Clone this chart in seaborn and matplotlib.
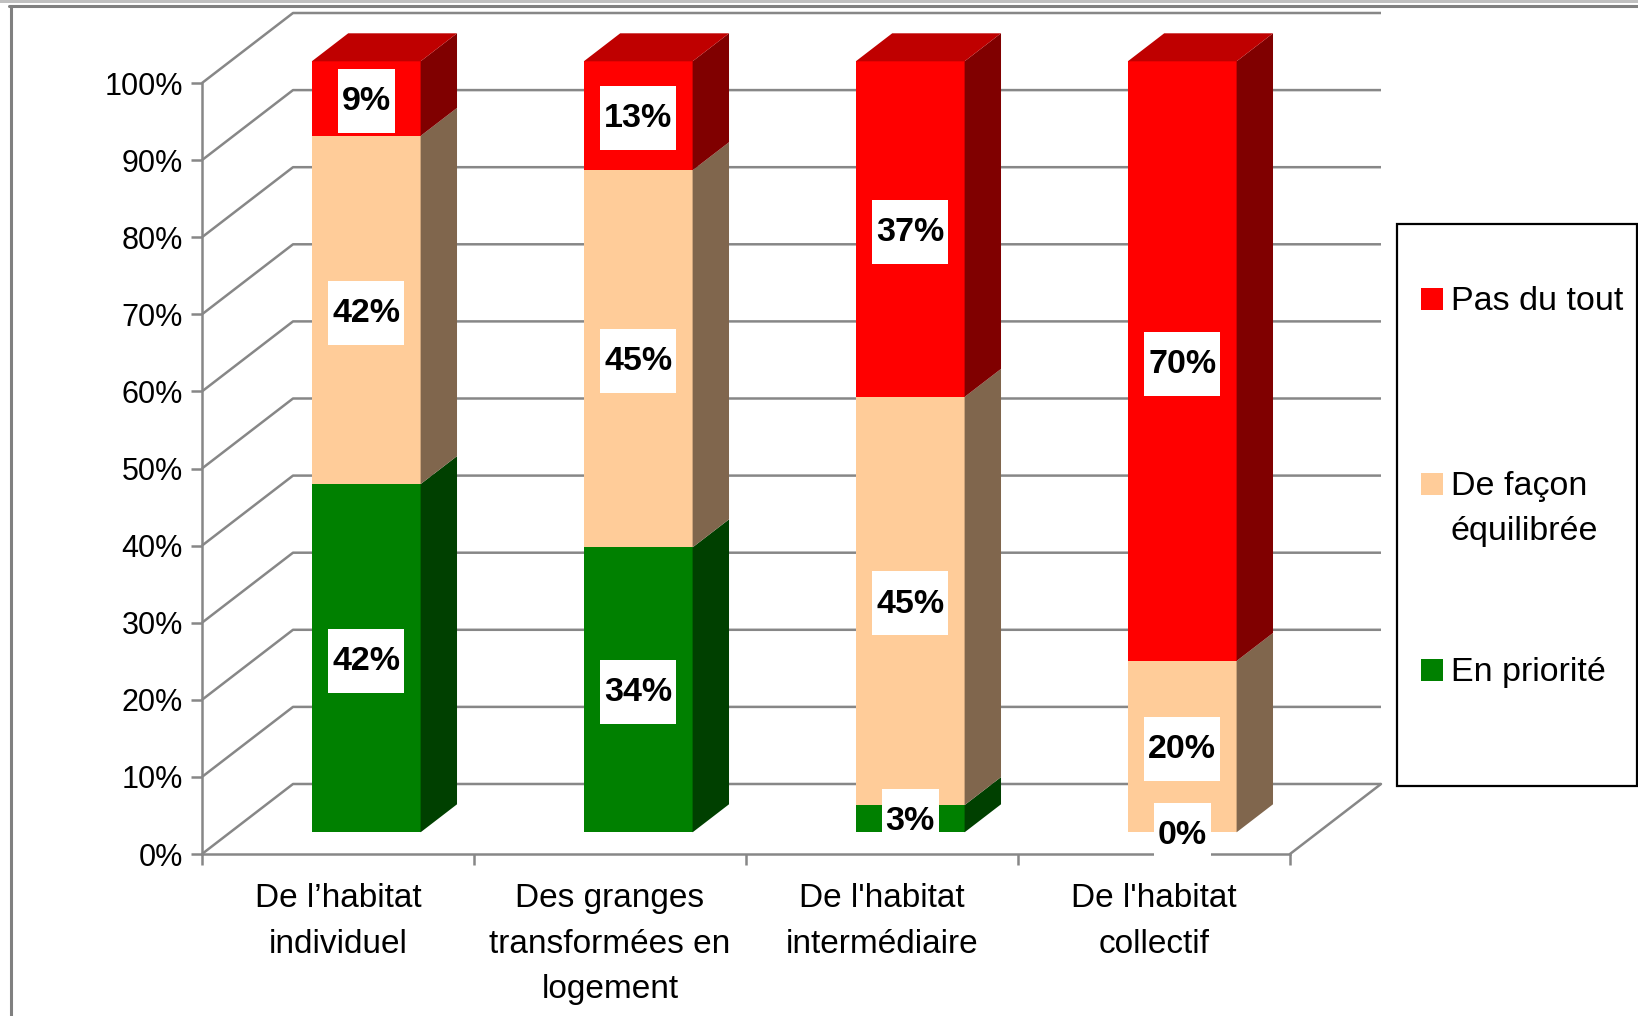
import numpy as np
import matplotlib
matplotlib.use("Agg")
import matplotlib.pyplot as plt
import matplotlib.transforms as mtransforms
from matplotlib.patches import Rectangle
from matplotlib.lines import Line2D
import seaborn as sns

# ---------------- data ----------------
categories = ["De l\u2019habitat\nindividuel",
              "Des granges\ntransformées en\nlogement",
              "De l'habitat\nintermédiaire",
              "De l'habitat\ncollectif"]
series_names = ["En priorité", "De façon\néquilibrée", "Pas du tout"]
en_priorite = [42, 34, 3, 0]
de_facon_equilibree = [42, 45, 45, 20]
pas_du_tout = [9, 13, 37, 70]
y_ticks = [0, 10, 20, 30, 40, 50, 60, 70, 80, 90, 100]
y_tick_labels = [f"{v}%" for v in y_ticks]

front_colors = ["#008000", "#FFCC99", "#FF0000"]
side_colors = ["#004000", "#80664D", "#800000"]
top_colors = ["#006000", "#BF9973", "#BF0000"]
GRID_C = "#878787"

# ---------------- style ----------------
sns.set_style("white")
plt.rcParams["font.family"] = ["Liberation Sans", "DejaVu Sans"]

W, H = 1638, 1016
fig = plt.figure(figsize=(W / 100, H / 100), dpi=100)
fig.patch.set_facecolor("white")

AX_L, AX_R, AX_T, AX_B = 202, 1381, 13, 854
ax = fig.add_axes([AX_L / W, 1 - AX_B / H, (AX_R - AX_L) / W, (AX_B - AX_T) / H])
ax.patch.set_alpha(0)

n = len(categories)
DX, DY = 0.3346, 9.08          # depth of the 3D floor (x in categories, y in %)
F0, FD = 0.31, 0.40            # bar front offset / bar depth as fraction of floor depth
BAR_W = 0.40
dx0, dy0 = F0 * DX, F0 * DY
bdx, bdy = FD * DX, FD * DY

series = np.array([en_priorite, de_facon_equilibree, pas_du_tout], dtype=float)
shares = 100 * series / series.sum(axis=0)
bottoms = np.vstack([np.zeros(n), np.cumsum(shares, axis=0)[:-1]])
xpos = np.arange(n)
xfront = xpos + dx0

# ---------------- back wall & floor ----------------
LW = 1.8
for yv in y_ticks:
    ax.plot([-0.5, -0.5 + DX, n - 0.5 + DX], [yv, yv + DY, yv + DY],
            color=GRID_C, lw=LW, zorder=1, clip_on=False, solid_capstyle="butt")
ax.plot([n - 0.5, n - 0.5 + DX], [0, DY], color=GRID_C, lw=LW, zorder=1, clip_on=False)

# ---------------- bars (front faces via seaborn) ----------------
for j in range(3):
    sns.barplot(x=xfront, y=shares[j], bottom=bottoms[j] + dy0, color=front_colors[j],
                width=BAR_W, native_scale=True, errorbar=None, saturation=1,
                linewidth=0, orient="x", ax=ax, zorder=3)

# side and top faces
for i in range(n):
    xl = xfront[i] - BAR_W / 2
    xr = xfront[i] + BAR_W / 2
    top_j = None
    for j in range(3):
        b = bottoms[j, i] + dy0
        t = b + shares[j, i]
        if shares[j, i] > 0:
            ax.fill([xr, xr + bdx, xr + bdx, xr], [b, b + bdy, t + bdy, t],
                    color=side_colors[j], lw=0, zorder=3)
            top_j = j
    T = bottoms[top_j, i] + dy0 + shares[top_j, i]
    ax.fill([xl, xl + bdx, xr + bdx, xr], [T, T + bdy, T + bdy, T],
            color=top_colors[top_j], lw=0, zorder=3)

# ---------------- axes ----------------
ax.set_xlim(-0.5, n - 0.5 + DX)
ax.set_ylim(0, 100 + DY)
ax.set_xlabel("")
ax.set_ylabel("")
ax.grid(False)
ax.spines["top"].set_visible(False)
ax.spines["right"].set_visible(False)
for s in ["left", "bottom"]:
    ax.spines[s].set_color(GRID_C)
    ax.spines[s].set_linewidth(LW)
ax.spines["left"].set_bounds(0, 100)
ax.spines["bottom"].set_bounds(-0.5, n - 0.5)
ax.spines["bottom"].set_zorder(7)

ax.set_yticks(y_ticks, y_tick_labels)
ax.tick_params(axis="y", left=True, length=7.9, width=LW, color=GRID_C, pad=5.8,
               labelsize=22, labelcolor="black")
ax.set_xticks(np.arange(n + 1) - 0.5)
ax.set_xticks(xpos, categories, minor=True)
ax.tick_params(axis="x", which="major", bottom=True, length=7.9, width=LW,
               color=GRID_C, labelbottom=False)
ax.tick_params(axis="x", which="minor", bottom=True, length=0, pad=21,
               labelsize=24, labelcolor="black")
for lbl in ax.get_xticklabels(minor=True):
    lbl.set_linespacing(1.6)
    lbl.set_ha("center")

# ---------------- data labels ----------------
items = []
for j in range(3):
    for i in range(n):
        b = bottoms[j, i] + dy0
        t = b + shares[j, i]
        yc = (b + t) / 2
        txt = ax.annotate(f"{int(series[j, i])}%", (xfront[i], yc), xytext=(0, -2.2),
                          textcoords="offset points", ha="center", va="center",
                          fontsize=24.5, fontweight="bold", color="black", zorder=9,
                          annotation_clip=False)
        items.append((txt, xfront[i], yc))

fig.canvas.draw()
renderer = fig.canvas.get_renderer()
for txt, xc, yc in items:
    wpx = txt.get_window_extent(renderer).width
    bw, bh = (wpx + 8) / fig.dpi, 64 / fig.dpi
    tr = fig.dpi_scale_trans + mtransforms.ScaledTranslation(xc, yc, ax.transData)
    rect = Rectangle((-bw / 2, -bh / 2 - 2.5 / fig.dpi), bw, bh, transform=tr,
                     facecolor="white", edgecolor="none", zorder=8, clip_on=False)
    ax.add_artist(rect)

# ---------------- legend ----------------
def fx(px):
    return px / W


def fy(py):
    return 1 - py / H


fig.add_artist(Rectangle((fx(1397), fy(786)), (1637 - 1397) / W, (786 - 224) / H,
                         transform=fig.transFigure, fill=False, edgecolor="black", lw=1.6))
for j, ycen in [(2, 299), (1, 484), (0, 670)]:
    fig.add_artist(Rectangle((fx(1421), fy(ycen + 11)), 22 / W, 22 / H,
                             transform=fig.transFigure, facecolor=front_colors[j], lw=0))
    fig.text(fx(1451), fy(ycen - 12.5), series_names[j], ha="left", va="top",
             fontsize=24.5, linespacing=1.55, color="black")

# ---------------- outer frame ----------------
fig.add_artist(Rectangle((0, fy(3)), 1, 3 / H, transform=fig.transFigure,
                         facecolor="#C0C0C0", lw=0))
fig.add_artist(Line2D([fx(9), 1], [fy(5.5), fy(5.5)], transform=fig.transFigure,
                      color="#808080", lw=2.2))
fig.add_artist(Line2D([fx(10.5), fx(10.5)], [0, fy(5.5)], transform=fig.transFigure,
                      color="#808080", lw=2.2))

fig.savefig("out.png", dpi=100, facecolor="white")
